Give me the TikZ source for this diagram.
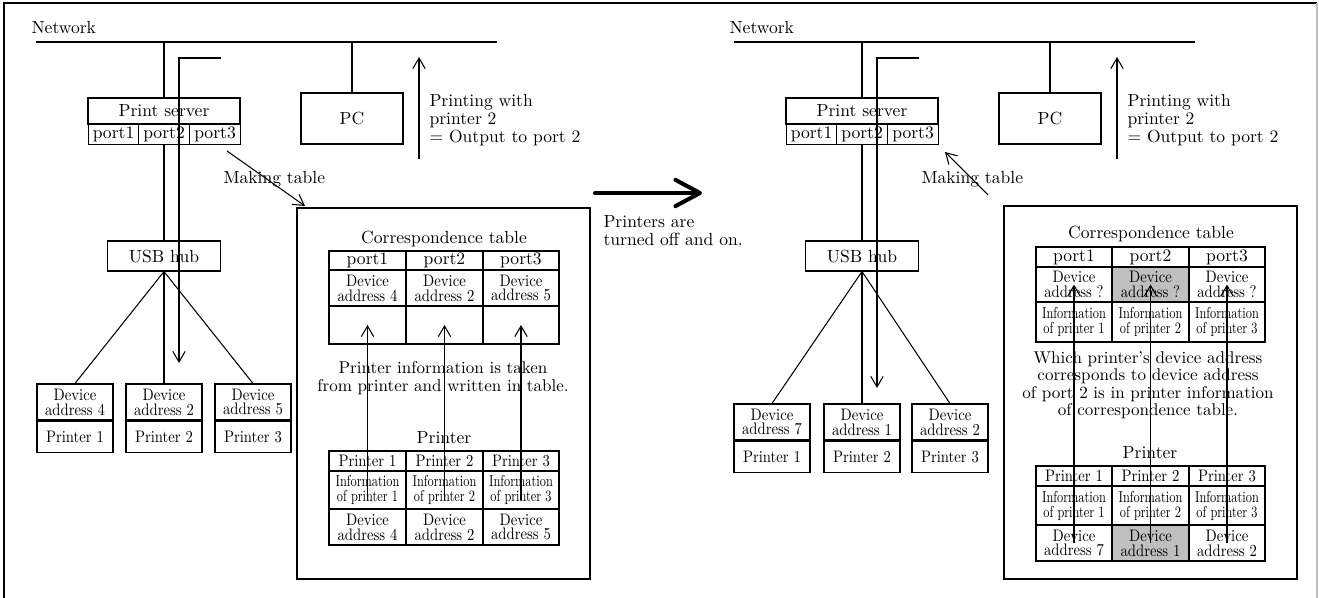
\documentclass[tikz,border=0pt]{standalone}
\usepackage{fontspec}
\usepackage{tikz}
\usetikzlibrary{arrows.meta}
\newfontfamily\narrowfont{lmroman10-regular.otf}[FakeStretch=0.88]
\newfontfamily\infofont{lmroman10-regular.otf}[FakeStretch=0.78]

\begin{document}
\begin{tikzpicture}[x=0.02cm, y=-0.02cm, line width=0.6pt,
    >={Straight Barb[length=6pt,width=7pt]},
    font=\fontsize{10}{10}\selectfont,
    cell/.style 2 args={draw, inner sep=0pt, align=center,
      minimum width=#1*0.02cm, minimum height=#2*0.02cm},
    dev/.style={font=\narrowfont\fontsize{9.5}{8.5}\selectfont},
    info/.style={font=\infofont\fontsize{9}{8.5}\selectfont},
    txt/.style={inner sep=0pt, align=left, font=\fontsize{10}{10.2}\selectfont},
    para/.style={inner sep=0pt, align=center, font=\fontsize{9.7}{10.4}\selectfont},
    shade/.style={fill=black!25}]
     \useasboundingbox (0,0) rectangle (1319,598);
     \draw (4,598) -- (4,3) -- (1317,3);
     \draw[black!25] (1317,3) -- (1317,598);

     % before
     \node[txt, anchor=base west] (netLabelL) at (31,34) {Network};
     \coordinate (netL0) at (36,42);
     \coordinate (netL1) at (497,42);
     \draw (netL0) -- (netL1);
     \node[cell={152}{26}] (srvL) at (164,111) {Print server};
     \node[cell={50}{20}, anchor=north west] (pL1) at (88,124) {port1};
     \node[cell={51}{20}, anchor=north west] (pL2) at (138,124) {port2};
     \node[cell={51}{20}, anchor=north west] (pL3) at (189,124) {port3};
     \node[cell={102}{51}] (pcL) at (352,118.5) {PC};
     \draw (srvL.north) -- (srvL.north |- netL0);
     \draw (pcL.north) -- (pcL.north |- netL0);
     \node[cell={113}{30}] (hubL) at (164,256) {USB hub};
     \draw (hubL.north |- pL2.south) -- (hubL.north);
     \node[cell={76}{36}, dev] (dL1) at (75,402) {Device\\address 4};
     \node[cell={76}{36}, dev] (dL2) at (164,402) {Device\\address 2};
     \node[cell={76}{36}, dev] (dL3) at (253,402) {Device\\address 5};
     \node[cell={76}{31}, dev, anchor=north] (prL1) at (dL1.south) {Printer 1};
     \node[cell={76}{31}, dev, anchor=north] (prL2) at (dL2.south) {Printer 2};
     \node[cell={76}{31}, dev, anchor=north] (prL3) at (dL3.south) {Printer 3};
     \draw (hubL.south) -- (dL1.north);
     \draw (hubL.south) -- (dL2.north);
     \draw (hubL.south) -- (dL3.north);
     \coordinate (retL0) at (221,58);
     \coordinate (retL1) at (179,58);
     \coordinate (retL2) at (179,363);
     \draw[->] (retL0) -- (retL1) -- (retL2);
     \coordinate (upL0) at (419,159);
     \coordinate (upL1) at (419,57);
     \draw[->] (upL0) -- (upL1);
     \node[txt, anchor=north west] (prtL) at (429,94) {Printing with\\printer 2\\= Output to port 2};
     \node[txt, anchor=base west] (mkL) at (223,183) {Making table};
     \coordinate (mkL0) at (227,151);
     \coordinate (mkL1) at (305,206);
     \draw[->] (mkL0) -- (mkL1);

     \node[cell={293}{371}] (boxL) at (443.5,393.5) {};
     \node[anchor=base] (ctL) at (444,243) {Correspondence table};
     \node[cell={77}{19}] (hL1) at (367.5,260.5) {port1};
     \node[cell={77}{19}] (hL2) at (444.5,260.5) {port2};
     \node[cell={76}{19}] (hL3) at (521,260.5) {port3};
     \node[cell={77}{36}, dev] (aL1) at (367.5,288) {Device\\address 4};
     \node[cell={77}{36}, dev] (aL2) at (444.5,288) {Device\\address 2};
     \node[cell={76}{36}, dev] (aL3) at (521,288) {Device\\address 5};
     \node[cell={77}{38}] (eL1) at (367.5,325) {};
     \node[cell={77}{38}] (eL2) at (444.5,325) {};
     \node[cell={76}{38}] (eL3) at (521,325) {};
     \node[para, anchor=north] (noteL) at (443,361) {Printer information is taken\\from printer and written in table.};
     \node[anchor=base] (ptL) at (444,443) {Printer};
     \node[cell={77}{20}, dev] (tL1) at (367.5,461) {Printer 1};
     \node[cell={77}{20}, dev] (tL2) at (444.5,461) {Printer 2};
     \node[cell={76}{20}, dev] (tL3) at (521,461) {Printer 3};
     \node[cell={77}{38}, info] (iL1) at (367.5,490) {Information\\of printer 1};
     \node[cell={77}{38}, info] (iL2) at (444.5,490) {Information\\of printer 2};
     \node[cell={76}{38}, info] (iL3) at (521,490) {Information\\of printer 3};
     \node[cell={77}{36}, dev] (sL1) at (367.5,527) {Device\\address 4};
     \node[cell={77}{36}, dev] (sL2) at (444.5,527) {Device\\address 2};
     \node[cell={76}{36}, dev] (sL3) at (521,527) {Device\\address 5};
     \draw[->] (iL1.center) ++(0,10) -- (eL1.center);
     \draw[->] (iL2.center) ++(0,10) -- (eL2.center);
     \draw[->] (iL3.center) ++(0,10) -- (eL3.center);

     % power cycle
     \coordinate (bigA) at (595,193);
     \coordinate (bigB) at (702,193);
     \draw[line width=2.3pt, line cap=round, -{Straight Barb[length=14pt,width=15pt,round]}] (bigA) -- (bigB);
     \node[txt, anchor=north west] (offon) at (603,215) {Printers are\\turned off and on.};

     % after
     \node[txt, anchor=base west] (netLabelR) at (729,34) {Network};
     \coordinate (netR0) at (734,42);
     \coordinate (netR1) at (1195,42);
     \draw (netR0) -- (netR1);
     \node[cell={152}{26}] (srvR) at (862,111) {Print server};
     \node[cell={50}{20}, anchor=north west] (pR1) at (786,124) {port1};
     \node[cell={51}{20}, anchor=north west] (pR2) at (836,124) {port2};
     \node[cell={51}{20}, anchor=north west] (pR3) at (887,124) {port3};
     \node[cell={102}{51}] (pcR) at (1050,118.5) {PC};
     \draw (srvR.north) -- (srvR.north |- netR0);
     \draw (pcR.north) -- (pcR.north |- netR0);
     \node[cell={113}{30}] (hubR) at (862,256) {USB hub};
     \draw (hubR.north |- pR2.south) -- (hubR.north);
     \node[cell={76}{36}, dev] (dR1) at (772,422) {Device\\address 7};
     \node[cell={76}{36}, dev] (dR2) at (862,422) {Device\\address 1};
     \node[cell={76}{36}, dev] (dR3) at (950,422) {Device\\address 2};
     \node[cell={76}{31}, dev, anchor=north] (prR1) at (dR1.south) {Printer 1};
     \node[cell={76}{31}, dev, anchor=north] (prR2) at (dR2.south) {Printer 2};
     \node[cell={76}{31}, dev, anchor=north] (prR3) at (dR3.south) {Printer 3};
     \draw (hubR.south) -- (dR1.north);
     \draw (hubR.south) -- (dR2.north);
     \draw (hubR.south) -- (dR3.north);
     \coordinate (retR0) at (919,58);
     \coordinate (retR1) at (877,58);
     \coordinate (retR2) at (877,388);
     \draw[->] (retR0) -- (retR1) -- (retR2);
     \coordinate (upR0) at (1117,159);
     \coordinate (upR1) at (1117,57);
     \draw[->] (upR0) -- (upR1);
     \node[txt, anchor=north west] (prtR) at (1127,94) {Printing with\\printer 2\\= Output to port 2};
     \node[txt, anchor=base west] (mkR) at (921,183) {Making table};
     \coordinate (mkR0) at (988,195);
     \coordinate (mkR1) at (945,152);
     \draw[->] (mkR0) -- (mkR1);

     \node[cell={293}{373}] (boxR) at (1150.5,392.5) {};
     \node[anchor=base] (ctR) at (1151,238) {Correspondence table};
     \node[cell={76}{20}] (hR1) at (1074,257) {port1};
     \node[cell={77}{20}] (hR2) at (1150.5,257) {port2};
     \node[cell={76}{20}] (hR3) at (1227,257) {port3};
     \node[cell={76}{35}, dev] (qR1) at (1074,284.5) {Device\\address ?};
     \node[cell={77}{35}, dev, shade] (qR2) at (1150.5,284.5) {Device\\address ?};
     \node[cell={76}{35}, dev] (qR3) at (1227,284.5) {Device\\address ?};
     \node[cell={76}{40}, info] (nR1) at (1074,322) {Information\\of printer 1};
     \node[cell={77}{40}, info] (nR2) at (1150.5,322) {Information\\of printer 2};
     \node[cell={76}{40}, info] (nR3) at (1227,322) {Information\\of printer 3};
     \node[para, anchor=north, font=\fontsize{9.7}{9.9}\selectfont] (noteR) at (1148,351) {Which printer's device address\\corresponds to device address\\of port 2 is in printer information\\of correspondence table.};
     \node[anchor=base] (ptR) at (1150,458) {Printer};
     \node[cell={76}{20}, dev] (tR1) at (1074,476) {Printer 1};
     \node[cell={77}{20}, dev] (tR2) at (1150.5,476) {Printer 2};
     \node[cell={76}{20}, dev] (tR3) at (1227,476) {Printer 3};
     \node[cell={76}{39}, info] (iR1) at (1074,505.5) {Information\\of printer 1};
     \node[cell={77}{39}, info] (iR2) at (1150.5,505.5) {Information\\of printer 2};
     \node[cell={76}{39}, info] (iR3) at (1227,505.5) {Information\\of printer 3};
     \node[cell={76}{36}, dev] (sR1) at (1074,543) {Device\\address 7};
     \node[cell={77}{36}, dev, shade] (sR2) at (1150.5,543) {Device\\address 1};
     \node[cell={76}{36}, dev] (sR3) at (1227,543) {Device\\address 2};
     \draw[->] (sR1.center) -- (qR1.center);
     \draw[->] (sR2.center) -- (qR2.center);
     \draw[->] (sR3.center) -- (qR3.center);
    \end{tikzpicture}
\end{document}
